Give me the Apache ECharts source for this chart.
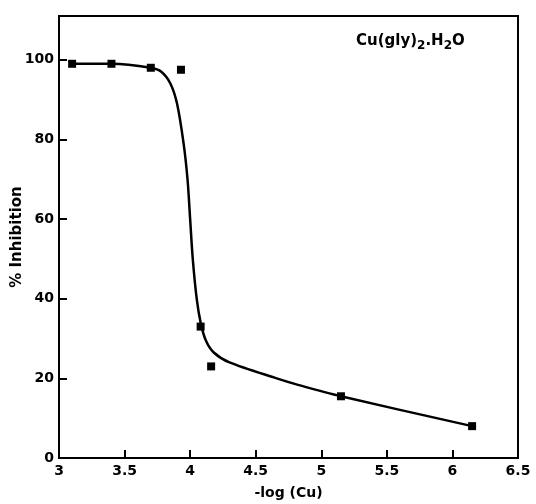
<!DOCTYPE html>
<html>
<head>
<meta charset="utf-8">
<script src="https://cdn.jsdelivr.net/npm/echarts@6/dist/echarts.min.js"></script>
<style>
  html, body { margin: 0; padding: 0; background: #fff; }
  #chart { width: 536px; height: 504px; }
</style>
</head>
<body>
<div id="chart"></div>
<script>
// measured points (-log Cu, % inhibition)
var logCu = [3.1, 3.4, 3.7, 3.93, 4.08, 4.16, 5.15, 6.15];
var inhibition = [99, 99, 98, 97.5, 33, 23, 15.5, 8];

// hand drawn fit curve
var curveX = [3.1, 3.4, 3.7, 3.78, 3.85, 3.9, 3.95, 3.98, 4.0, 4.02, 4.05, 4.08, 4.12, 4.18, 4.3, 4.66, 4.81, 5.15, 6.15];
var curveY = [99, 99, 98, 97, 94, 89, 79, 70, 60, 50, 40, 34, 29.5, 26.5, 24, 20, 18.5, 15.5, 8];

var xTicks = [3, 3.5, 4, 4.5, 5, 5.5, 6, 6.5];

var chart = echarts.init(document.getElementById('chart'));

var points = logCu.map(function (x, i) { return [x, inhibition[i]]; });
var curve = curveX.map(function (x, i) { return [x, curveY[i]]; });

var labelFont = {
    color: '#000',
    fontFamily: 'DejaVu Sans',
    fontWeight: 'bold',
    fontSize: 14
};

var option = {
    backgroundColor: '#fff',
    animation: false,
    grid: {
        left: 59,
        right: 18,
        top: 16,
        bottom: 46,
        outerBoundsMode: 'none',
        containLabel: false,
        show: true,
        borderColor: '#000',
        borderWidth: 2
    },
    xAxis: {
        type: 'value',
        min: 3,
        max: 6.5,
        interval: 0.5,
        name: '-log (Cu)',
        nameLocation: 'middle',
        nameGap: 28,
        nameMoveOverlap: false,
        nameTextStyle: labelFont,
        axisLine: { lineStyle: { color: '#000', width: 2 } },
        axisTick: { inside: true, length: 8, lineStyle: { color: '#000', width: 2 } },
        axisLabel: Object.assign({
            margin: 6,
            formatter: function (v) {
                return xTicks.indexOf(v) >= 0 ? String(v) : '';
            }
        }, labelFont),
        splitLine: { show: false }
    },
    yAxis: {
        type: 'value',
        min: 0,
        max: 111,
        interval: 20,
        name: '% Inhibition',
        nameLocation: 'middle',
        nameGap: 34,
        nameMoveOverlap: false,
        nameRotate: 90,
        nameTextStyle: Object.assign({}, labelFont, { fontSize: 15 }),
        axisLine: { lineStyle: { color: '#000', width: 2 } },
        axisTick: { inside: true, length: 8, lineStyle: { color: '#000', width: 2 } },
        axisLabel: Object.assign({
            margin: 5,
            showMaxLabel: false,
            formatter: function (v) {
                return v % 20 === 0 ? String(v) : '';
            }
        }, labelFont),
        splitLine: { show: false }
    },
    graphic: [{
        type: 'text',
        left: 356,
        top: 34,
        style: {
            text: 'Cu(gly){s|2}.H{s|2}O',
            fill: '#000',
            font: 'bold 15px "DejaVu Sans"',
            rich: {
                s: { fontSize: 12, fontWeight: 'bold', fontFamily: 'DejaVu Sans', padding: [8, 0, 0, 0] }
            }
        }
    }],
    series: [{
        type: 'line',
        data: curve,
        smooth: 0.3,
        showSymbol: false,
        lineStyle: { color: '#000', width: 2.5 },
        z: 2
    }, {
        type: 'scatter',
        data: points,
        symbol: 'rect',
        symbolSize: 8,
        itemStyle: { color: '#000', opacity: 1 },
        z: 3
    }]
};

chart.setOption(option);
</script>
</body>
</html>
